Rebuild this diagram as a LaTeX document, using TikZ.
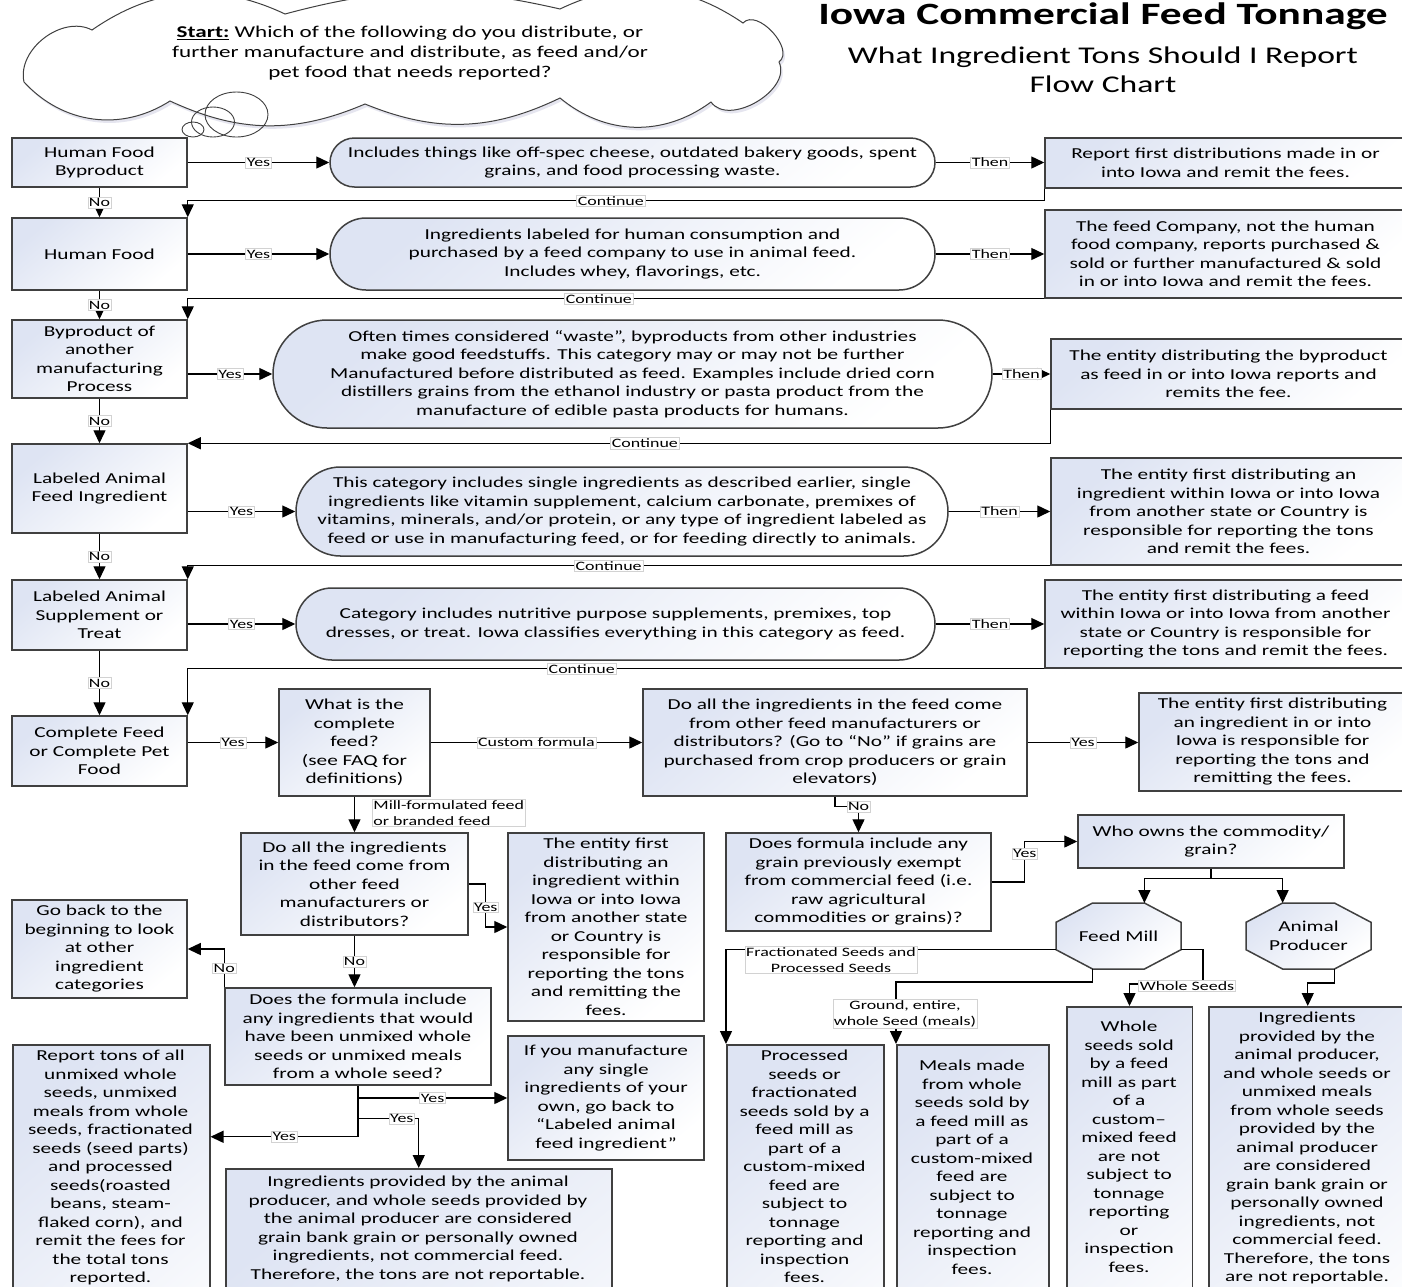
\documentclass[tikz,border=0pt]{standalone}
\usepackage{fontspec}
\setmainfont{Carlito}[FakeStretch=1.4]
\usetikzlibrary{arrows.meta,shapes.misc,shapes.geometric,calc}
\definecolor{fillc}{RGB}{222,228,243}
\definecolor{bordc}{RGB}{64,64,64}
\definecolor{labc}{RGB}{210,210,210}
\def\cloudpath{(24,82) to[bend left=65] (92,30) to[bend left=30] (285,14) to[bend left=14] (560,9)
  to[bend left=30] (743,23) to[bend left=95] (779,62) to[bend left=85] (711,102)
  to[bend left=38] (560,98) to[bend left=24] (365,104) to[bend left=24] (170,101)
  to[bend left=40] (24,82)}
\begin{document}
\begin{tikzpicture}[x=1pt,y=-1pt,
  every node/.style={font=\fontsize{15.2}{18.5}\selectfont},
  box/.style={draw=bordc, line width=1.5pt, top color=fillc, bottom color=white, shading angle=40, align=center, inner sep=1pt},
  stad/.style={box, rounded corners=#1},
  txt/.style={align=center, inner sep=0pt},
  lab/.style={fill=white, draw=labc, line width=0.5pt, inner sep=1.2pt, align=center, font=\fontsize{12.8}{15.5}\selectfont},
  arr/.style={draw=black, line width=1.4pt, -{Triangle[length=13pt,width=12pt]}},
  ln/.style={draw=black, line width=1.4pt},
  bub/.style={ellipse, draw=bordc, line width=0.9pt, inner sep=0pt}
]
\useasboundingbox (0,0) rectangle (1402,1286);
\clip (0,0) rectangle (1402,1286);
\fill[white] (0,0) rectangle (1402,1286);

% ---------- title and start cloud
\node[font=\fontsize{31}{36}\selectfont\bfseries] (title) at (1103,16) {Iowa Commercial Feed Tonnage};
\node[font=\fontsize{24}{29}\selectfont, align=center] (subtitle) at (1103,70) {What Ingredient Tons Should I Report\\Flow Chart};
\fill[black!60!blue!40, opacity=0.25, shift={(2,3)}] \cloudpath;
\path[draw=bordc, line width=1pt, fill=white] \cloudpath;
\node[txt, font=\fontsize{16.5}{20}\selectfont] (starttxt) at (410,53) {\underline{\textbf{Start:}} Which of the following do you distribute, or\\further manufacture and distribute, as feed and/or\\pet food that needs reported?};
\node[bub, minimum width=63pt, minimum height=45pt] (b1) at (236.5,114.5) {};
\node[bub, minimum width=43pt, minimum height=30pt] (b2) at (213,122) {};
\node[bub, minimum width=22pt, minimum height=15pt] (b3) at (193,129.5) {};

% ---------- left column
\node[box, minimum width=175pt, minimum height=49pt] (A1) at (99.5,162.5) {Human Food\\Byproduct};
\node[box, minimum width=175pt, minimum height=72pt] (A2) at (99.5,254) {Human Food};
\node[box, minimum width=175pt, minimum height=78pt] (A3) at (99.5,359) {Byproduct of\\another\\manufacturing\\Process};
\node[box, minimum width=175pt, minimum height=89pt] (A4) at (99.5,488.5) {Labeled Animal\\Feed Ingredient};
\node[box, minimum width=175pt, minimum height=70pt] (A5) at (99.5,615) {Labeled Animal\\Supplement or\\Treat};
\node[box, minimum width=175pt, minimum height=70pt] (A6) at (99.5,751) {Complete Feed\\or Complete Pet\\Food};

% ---------- descriptions
\node[stad=24.5pt, minimum width=605pt, minimum height=49pt] (S1) at (632.5,162.5) {Includes things like off-spec cheese, outdated bakery goods, spent\\grains, and food processing waste.};
\node[stad=36pt, minimum width=605pt, minimum height=72pt] (S2) at (632.5,254) {Ingredients labeled for human consumption and\\purchased by a feed company to use in animal feed.\\Includes whey, flavorings, etc.};
\node[stad=54pt, minimum width=719pt, minimum height=108pt] (S3) at (632.5,374) {Often times considered “waste”, byproducts from other industries\\make good feedstuffs. This category may or may not be further\\Manufactured before distributed as feed. Examples include dried corn\\distillers grains from the ethanol industry or pasta product from the\\manufacture of edible pasta products for humans.};
\node[stad=44.5pt, minimum width=652pt, minimum height=89pt] (S4) at (622,511.5) {This category includes single ingredients as described earlier, single\\ingredients like vitamin supplement, calcium carbonate, premixes of\\vitamins, minerals, and/or protein, or any type of ingredient labeled as\\feed or use in manufacturing feed, or for feeding directly to animals.};
\node[stad=36pt, minimum width=639pt, minimum height=72pt] (S5) at (615.5,624) {Category includes nutritive purpose supplements, premixes, top\\dresses, or treat. Iowa classifies everything in this category as feed.};

% ---------- results right
\node[box, minimum width=361pt, minimum height=50pt] (R1) at (1225.5,163) {Report first distributions made in or\\into Iowa and remit the fees.};
\node[box, minimum width=361pt, minimum height=88pt] (R2) at (1225.5,254) {The feed Company, not the human\\food company, reports purchased \&\\sold or further manufactured \& sold\\in or into Iowa and remit the fees.};
\node[box, minimum width=355pt, minimum height=70pt] (R3) at (1228.5,374) {The entity distributing the byproduct\\as feed in or into Iowa reports and\\remits the fee.};
\node[box, minimum width=355pt, minimum height=107pt] (R4) at (1228.5,511.5) {The entity first distributing an\\ingredient within Iowa or into Iowa\\from another state or Country is\\responsible for reporting the tons\\and remit the fees.};
\node[box, minimum width=361pt, minimum height=88pt] (R5) at (1225.5,624) {The entity first distributing a feed\\within Iowa or into Iowa from another\\state or Country is responsible for\\reporting the tons and remit the fees.};

% ---------- complete feed part
\node[box, minimum width=151pt, minimum height=107pt] (W) at (354.5,742.5) {What is the\\complete\\feed?\\(see FAQ for\\definitions)};
\node[box, minimum width=384pt, minimum height=107pt] (D1) at (835,742.5) {Do all the ingredients in the feed come\\from other feed manufacturers or\\distributors? (Go to “No” if grains are\\purchased from crop producers or grain\\elevators)};
\node[box, minimum width=267pt, minimum height=98pt] (E1) at (1272.5,742) {The entity first distributing\\an ingredient in or into\\Iowa is responsible for\\reporting the tons and\\remitting the fees.};
\node[box, minimum width=227pt, minimum height=102pt] (M1) at (354.5,884) {Do all the ingredients\\in the feed come from\\other feed\\manufacturers or\\distributors?};
\node[box, minimum width=196pt, minimum height=188pt] (E2) at (606,927) {The entity first\\distributing an\\ingredient within\\Iowa or into Iowa\\from another state\\or Country is\\responsible for\\reporting the tons\\and remitting the\\fees.};
\node[box, minimum width=175pt, minimum height=98pt] (G) at (99.5,949) {Go back to the\\beginning to look\\at other\\ingredient\\categories};
\node[box, minimum width=266pt, minimum height=97pt] (F) at (358,1036.5) {Does the formula include\\any ingredients that would\\have been unmixed whole\\seeds or unmixed meals\\from a whole seed?};
\node[box, minimum width=196pt, minimum height=124pt] (H) at (606,1098) {If you manufacture\\any single\\ingredients of your\\own, go back to\\“Labeled animal\\feed ingredient”};
\node[box, minimum width=265pt, minimum height=98pt] (D2) at (858.5,882) {Does formula include any\\grain previously exempt\\from commercial feed (i.e.\\raw agricultural\\commodities or grains)?};
\node[box, minimum width=266pt, minimum height=53pt] (WHO) at (1211,841.5) {Who owns the commodity/\\grain?};

% octagons
\path[draw=bordc, line width=1.5pt, top color=fillc, bottom color=white, shading angle=40]
  (1092.6,903) coordinate (FMtl) -- (1144.4,903) coordinate (FMtr) -- (1181,922.3) -- (1181,949.7) coordinate (FMrb)
  -- (1144.4,969) -- (1092.6,969) coordinate (FMbl) -- (1056,949.7) coordinate (FMlb) -- (1056,922.3) -- cycle;
\node[txt] (FM) at (1118.5,936) {Feed Mill};
\path[draw=bordc, line width=1.5pt, top color=fillc, bottom color=white, shading angle=40]
  (1282.6,903) coordinate (APtl) -- (1334.4,903) -- (1371,922.3) -- (1371,949.7)
  -- (1334.4,969) coordinate (APbr) -- (1282.6,969) -- (1246,949.7) -- (1246,922.3) -- cycle;
\node[txt] (AP) at (1308.5,936) {Animal\\Producer};

% ---------- bottom (clipped) boxes
\node[box, anchor=north west, minimum width=197pt, minimum height=400pt] (R) at (12,1044) {};
\node[txt, anchor=north] (Rt) at (110.5,1050) {Report tons of all\\unmixed whole\\seeds, unmixed\\meals from whole\\seeds, fractionated\\seeds (seed parts)\\and processed\\seeds(roasted\\beans, steam-\\flaked corn), and\\remit the fees for\\the total tons\\reported.};
\node[box, anchor=north west, minimum width=386pt, minimum height=400pt] (I) at (225,1168) {};
\node[txt, anchor=north] (It) at (418,1176) {Ingredients provided by the animal\\producer, and whole seeds provided by\\the animal producer are considered\\grain bank grain or personally owned\\ingredients, not commercial feed.\\Therefore, the tons are not reportable.};
\node[box, anchor=north west, minimum width=157pt, minimum height=400pt] (P1) at (726,1044) {};
\node[txt, anchor=north] (P1t) at (804.5,1050) {Processed\\seeds or\\fractionated\\seeds sold by a\\feed mill as\\part of a\\custom-mixed\\feed are\\subject to\\tonnage\\reporting and\\inspection\\fees.};
\node[box, anchor=north west, minimum width=152pt, minimum height=400pt] (P2) at (896,1044) {};
\node[txt, anchor=north] (P2t) at (972,1060) {Meals made\\from whole\\seeds sold by\\a feed mill as\\part of a\\custom-mixed\\feed are\\subject to\\tonnage\\reporting and\\inspection\\fees.};
\node[box, anchor=north west, minimum width=125.5pt, minimum height=400pt] (W3) at (1066,1006) {};
\node[txt, anchor=north] (W3t) at (1129,1021) {Whole\\seeds sold\\by a feed\\mill as part\\of a\\custom–\\mixed feed\\are not\\subject to\\tonnage\\reporting\\or\\inspection\\fees.};
\node[box, anchor=north west, minimum width=198pt, minimum height=400pt] (W4) at (1208,1006) {};
\node[txt, anchor=north] (W4t) at (1307,1012) {Ingredients\\provided by the\\animal producer,\\and whole seeds or\\unmixed meals\\from whole seeds\\provided by the\\animal producer\\are considered\\grain bank grain or\\personally owned\\ingredients, not\\commercial feed.\\Therefore, the tons\\are not reportable.};

% ---------- connectors: Yes / Then
\draw[arr] (S1.west -| A1.east) -- node[lab]{Yes} (S1.west);
\draw[arr] (S2.west -| A2.east) -- node[lab]{Yes} (S2.west);
\draw[arr] (S3.west -| A3.east) -- node[lab]{Yes} (S3.west);
\draw[arr] (S4.west -| A4.east) -- node[lab]{Yes} (S4.west);
\draw[arr] (S5.west -| A5.east) -- node[lab]{Yes} (S5.west);
\draw[arr] (S1.east) -- node[lab]{Then} (S1.east -| R1.west);
\draw[arr] (S2.east) -- node[lab]{Then} (S2.east -| R2.west);
\draw[arr] (S3.east) -- node[lab]{Then} (S3.east -| R3.west);
\draw[arr] (S4.east) -- node[lab]{Then} (S4.east -| R4.west);
\draw[arr] (S5.east) -- node[lab]{Then} (S5.east -| R5.west);

% continue
\draw[arr] (R1.south west) -- ++(0,12) -| node[lab,pos=0.253]{Continue} (A2.north east);
\draw[arr] (R2.south west) -| node[lab,pos=0.26]{Continue} (A3.north east);
\draw[arr] (R3.south west) |- node[lab,pos=0.735]{Continue} (A4.north east);
\draw[arr] (R4.south west) -| node[lab,pos=0.256]{Continue} (A5.north east);
\draw[arr] (R5.south west) -| node[lab,pos=0.27]{Continue} (A6.north east);

% No
\draw[arr] (A1.south) -- node[lab]{No} (A2.north);
\draw[arr] (A2.south) -- node[lab]{No} (A3.north);
\draw[arr] (A3.south) -- node[lab]{No} (A4.north);
\draw[arr] (A4.south) -- node[lab]{No} (A5.north);
\draw[arr] (A5.south) -- node[lab]{No} (A6.north);

% complete feed
\draw[arr] (W.west -| A6.east) -- node[lab]{Yes} (W.west);
\draw[arr] (W.east) -- node[lab]{Custom formula} (D1.west);
\draw[arr] (D1.east) -- node[lab]{Yes} (E1.west |- D1.east);
\draw[arr] (D1.south) -- ++(0,10) -| node[lab,pos=0.5]{No} (D2.north);
\draw[arr] (D2.east) -- ++(33,0) |- node[lab,pos=0.35]{Yes} (WHO.west);
\draw[arr] (WHO.south) -- ++(0,10) -| (FMtr);
\draw[arr] (WHO.south) -- ++(0,10) -| (APtl);
\draw[arr] (FMlb) -| (P1.north west);
\node[lab] (Lfrac) at (831,960) {Fractionated Seeds and\\Processed Seeds};
\draw[arr] (FMbl) -- ++(0,13) -| (P2.north west);
\node[lab] (Lground) at (905,1014) {Ground, entire,\\whole Seed (meals)};
\draw[arr] (FMrb) -- ++(22,0) |- ([yshift=22pt]W3.north) -- (W3.north);
\node[lab] (Lwhole) at (1187,986) {Whole Seeds};
\draw[arr] (APbr) -- ++(0,14) -| (W4.north);

% mill formulated part
\draw[arr] (W.south) -- (M1.north);
\node[lab, align=left, anchor=west] (Lmill) at (372,813) {Mill-formulated feed\\or branded feed};
\draw[arr] (M1.east) -- ++(17,0) |- node[lab,pos=0.27]{Yes} (E2.west);
\draw[arr] (M1.south) -- node[lab]{No} (M1.south |- F.north);
\draw[arr] (F.north west) |- node[lab,pos=0.25]{No} (G.east);
\draw[ln] (F.south) -- ++(0,51) coordinate (Fb);
\draw[arr] (F.south |- H.west) -- node[lab]{Yes} (H.west);
\draw[arr] ([yshift=-33pt]F.south) -| node[lab,pos=0.36]{Yes} (I.north);
\draw[arr] (Fb) -- node[lab]{Yes} (Fb -| R.east);
\end{tikzpicture}
\end{document}
